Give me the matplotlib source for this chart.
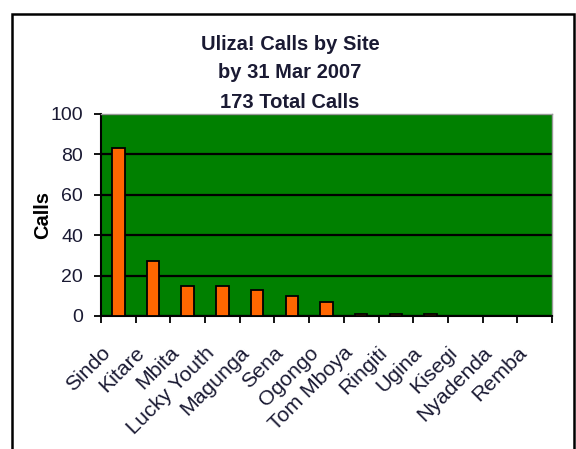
import numpy as np
import matplotlib.pyplot as plt
from matplotlib.patches import Rectangle
from matplotlib.transforms import ScaledTranslation

plt.rcParams['font.family'] = ['Liberation Sans', 'DejaVu Sans']

sites = ["Sindo", "Kitare", "Mbita", "Lucky Youth", "Magunga", "Sena", "Ogongo",
         "Tom Mboya", "Ringiti", "Ugina", "Kisegi", "Nyadenda", "Remba"]
calls = [83, 27, 15, 15, 13, 10, 7, 1, 1, 1, 0, 0, 0]
yticks = [0, 20, 40, 60, 80, 100]

W, H = 576, 449
fig = plt.figure(figsize=(W / 100, H / 100), dpi=100)
ax = fig.add_axes([101 / W, 1 - 316 / H, 451 / W, 202 / H])

txt = "#1a1a33"
x = np.arange(len(sites))
ax.set_facecolor("#008000")
ax.bar(x, calls, width=0.36, color="#ff6600", edgecolor="black", linewidth=1.3, zorder=3)

ax.set_xlim(-0.5, len(sites) - 0.5)
ax.set_ylim(0, 100)
ax.set_yticks(yticks)
ax.set_yticklabels([str(v) for v in yticks], fontsize=14, color=txt)
ax.grid(axis="y", color="black", linewidth=1.6, zorder=1)
ax.set_axisbelow(True)

# category labels, placed under each bar slot
ax.set_xticks([])
ax.set_xticks(np.arange(len(sites) + 1) - 0.5, minor=True)
off = ax.get_xaxis_transform() + ScaledTranslation(-18 / 100, -27 / 100, fig.dpi_scale_trans)
for i, name in enumerate(sites):
    ax.text(x[i], 0, name, transform=off, rotation=45, ha="right", va="top",
            rotation_mode="anchor", fontsize=15.3, color=txt, clip_on=False)
ax.tick_params(axis="x", which="minor", length=5, width=1.3, direction="out")
ax.tick_params(axis="y", length=5, width=1.3, direction="out", pad=8)

for s in ["left", "bottom"]:
    ax.spines[s].set_color("black")
    ax.spines[s].set_linewidth(1.5)
for s in ["top", "right"]:
    ax.spines[s].set_color("#999999")
    ax.spines[s].set_linewidth(1.0)

ax.set_ylabel("Calls", fontsize=14.5, fontweight="bold", color="black", labelpad=-1)

fig.text(290 / W, 1 - 44 / H, "Uliza! Calls by Site", ha="center", va="center",
         fontsize=14.5, fontweight="bold", color=txt)
fig.text(290 / W, 1 - 73 / H, "by 31 Mar 2007", ha="center", va="center",
         fontsize=14.5, fontweight="bold", color=txt)
fig.text(290 / W, 1 - 102 / H, "173 Total Calls", ha="center", va="center",
         fontsize=14.5, fontweight="bold", color=txt)

# chart frame
fig.patches.append(Rectangle((12 / W, -0.05), 562 / W, 1 - 14 / H + 0.05,
                             transform=fig.transFigure, fill=False,
                             edgecolor="black", linewidth=1.8))

fig.savefig("out.png", dpi=100)
